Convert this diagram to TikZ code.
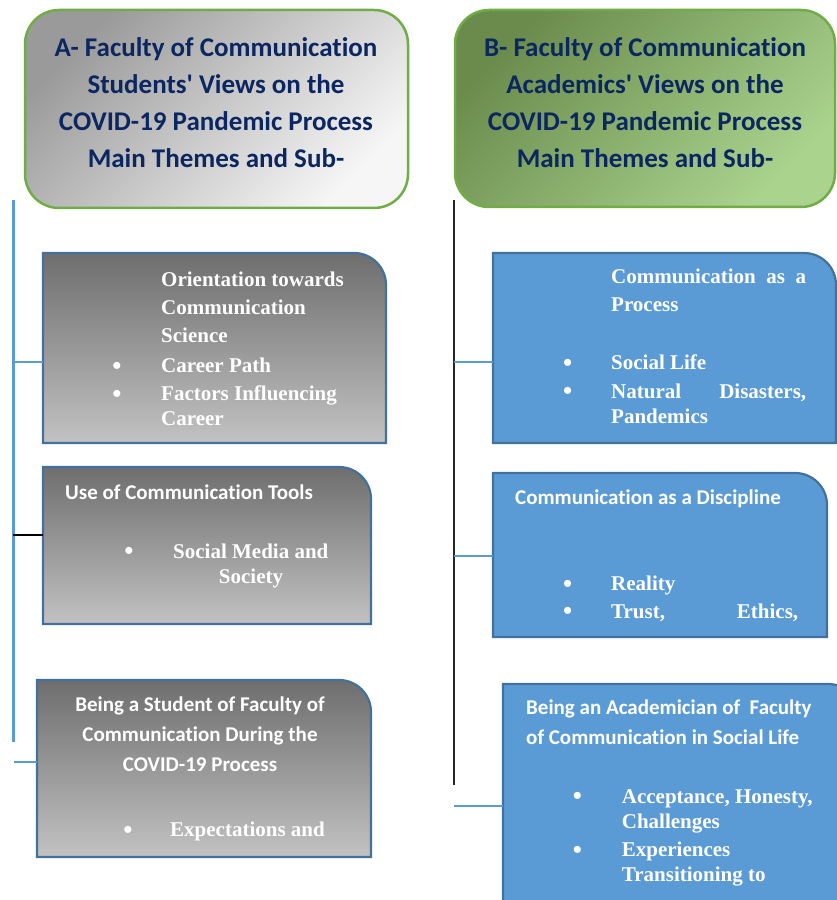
\documentclass[tikz,border=0pt]{standalone}
\usepackage{fontspec}
\setmainfont{Liberation Serif}
\newfontfamily\carl[Ligatures={NoCommon}]{Carlito}
\definecolor{navy}{HTML}{0B2660}
\definecolor{hdrgreen}{HTML}{70AD47}
\definecolor{bdrblue}{HTML}{41719C}
\definecolor{fillblue}{HTML}{5B9BD5}
\definecolor{gtop}{HTML}{6E6E6E}
\definecolor{gbot}{HTML}{C2C2C2}
\definecolor{hAa}{HTML}{9A9A9A}
\definecolor{hAb}{HTML}{F6F6F6}
\definecolor{hBa}{HTML}{6A8B4C}
\definecolor{hBb}{HTML}{AAD38E}
\newcommand\trshape[2]{%
  \path[#2] (#1.south west) -- (#1.north west) -- ([xshift=-32pt]#1.north east)
    arc[start angle=90,end angle=0,radius=32pt] -- (#1.south east) -- cycle;}
\tikzset{
  frame/.style={draw=none,inner sep=0pt,outer sep=0pt,rectangle},
  hdr/.style={rectangle,rounded corners=34pt,draw=hdrgreen,line width=2.5pt,inner sep=0pt},
  graybox/.style={top color=gtop,bottom color=gbot,draw=bdrblue,line width=2.2pt},
  bluebox/.style={fill=fillblue,draw=bdrblue,line width=2.2pt},
  hdtxt/.style={font=\carl\bfseries\fontsize{27}{30}\selectfont,text=navy,anchor=base,inner sep=0pt},
  ttl/.style={font=\carl\bfseries\fontsize{21}{25}\selectfont,text=white,inner sep=0pt},
  srf/.style={font=\bfseries\fontsize{21}{25}\selectfont,text=white,inner sep=0pt,anchor=base west},
  bul/.style={font=\bfseries\fontsize{26}{30}\selectfont,text=white,inner sep=0pt,anchor=base,yshift=-1.5pt},
  conblue/.style={draw=fillblue,line width=1.2pt},
  conblack/.style={draw=black,line width=1.2pt},
  vblue/.style={draw=fillblue,line width=3pt},
  vblack/.style={draw=black!85,line width=1.3pt}
}
\begin{document}
\begin{tikzpicture}[x=1pt,y=1pt]
\useasboundingbox (0,0) rectangle (837,900);
\clip (0,0) rectangle (837,900);
\fill[white] (0,0) rectangle (837,900);

% headers
\node[hdr,minimum width=383pt,minimum height=198pt,
  top color=hAa,bottom color=hAb,shading angle=45] (ha) at (216.5,791) {};
\node[hdr,minimum width=380pt,minimum height=197pt,
  top color=hBa,bottom color=hBb,shading angle=45] (hb) at (645,791.5) {};
\node[hdtxt] (ha1) at (216,843) {A- Faculty of Communication};
\node[hdtxt] (ha2) at (216,806) {Students' Views on the};
\node[hdtxt] (ha3) at (216,769) {COVID-19 Pandemic Process};
\node[hdtxt] (ha4) at (216,732) {Main Themes and Sub-};
\node[hdtxt] (hb1) at (645,843) {B- Faculty of Communication};
\node[hdtxt] (hb2) at (645,806) {Academics' Views on the};
\node[hdtxt] (hb3) at (645,769) {COVID-19 Pandemic Process};
\node[hdtxt] (hb4) at (645,732) {Main Themes and Sub-};

% box frames
\node[frame,minimum width=343pt,minimum height=190pt] (l1) at (214.5,552) {};
\node[frame,minimum width=328pt,minimum height=157pt] (l2) at (207,354.5) {};
\node[frame,minimum width=334pt,minimum height=177pt] (l3) at (204,131.5) {};
\node[frame,minimum width=343pt,minimum height=190pt] (r1) at (664.5,552) {};
\node[frame,minimum width=334pt,minimum height=164pt] (r2) at (660,345) {};
\node[frame,minimum width=357pt,minimum height=236pt] (r3) at (681.5,98) {};
\trshape{l1}{graybox}
\trshape{l2}{graybox}
\trshape{l3}{graybox}
\trshape{r1}{bluebox}
\trshape{r2}{bluebox}
\trshape{r3}{bluebox}

% connectors left
\coordinate (lt) at (13,700);
\coordinate (lb) at (13,158);
\draw[vblue] (lt) -- (lb);
\coordinate (lc1) at (13,538);
\coordinate (lc2) at (13,365);
\coordinate (lc3) at (14,138);
\draw[conblue] (lc1) -- (lc1 -| l1.west);
\draw[conblack] (lc2) -- (lc2 -| l2.west);
\draw[conblue] (lc3) -- (lc3 -| l3.west);

% connectors right
\coordinate (rt) at (454,700);
\coordinate (rb) at (454,115);
\draw[vblack] (rt) -- (rb);
\coordinate (rc1) at (454,538);
\coordinate (rc2) at (454,344);
\coordinate (rc3) at (454,94);
\draw[conblue] (rc1) -- (rc1 -| r1.west);
\draw[conblue] (rc2) -- (rc2 -| r2.west);
\draw[conblue] (rc3) -- (rc3 -| r3.west);

% L1 text
\node[srf] (l1a) at (161,613.3) {Orientation towards};
\node[srf] (l1b) at (161,585) {Communication};
\node[srf] (l1c) at (161,557.3) {Science};
\node[bul] (l1d) at (117,527.3) {\textbullet};
\node[srf] (l1e) at (161,527.3) {Career Path};
\node[bul] (l1f) at (117,499) {\textbullet};
\node[srf] (l1g) at (161,499) {Factors Influencing};
\node[srf] (l1h) at (161,474.3) {Career};

% L2 text
\node[ttl,anchor=base west] (l2a) at (65,400.7) {Use of Communication Tools};
\node[bul] (l2b) at (129,341.7) {\textbullet};
\node[srf] (l2c) at (173,341.7) {Social Media and};
\node[srf,anchor=base] (l2d) at (251,316.7) {Society};

% L3 text
\node[ttl,anchor=base] (l3a) at (200,188.3) {Being a Student of Faculty of};
\node[ttl,anchor=base] (l3b) at (200,158.3) {Communication During the};
\node[ttl,anchor=base] (l3c) at (200,128.3) {COVID-19 Process};
\node[bul] (l3d) at (128,63.3) {\textbullet};
\node[srf] (l3e) at (170,63.3) {Expectations and};

% R1 text
\node[srf] (r1a) at (611,616.7) {\makebox[195pt][s]{Communication as a}};
\node[srf] (r1b) at (611,588.3) {Process};
\node[bul] (r1c) at (567.7,530) {\textbullet};
\node[srf] (r1d) at (611,530) {Social Life};
\node[bul] (r1e) at (567.7,501.7) {\textbullet};
\node[srf] (r1f) at (611,501.7) {\makebox[195pt][s]{Natural Disasters,}};
\node[srf] (r1g) at (611,476.7) {Pandemics};

% R2 text
\node[ttl,anchor=base west] (r2a) at (515,395) {Communication as a Discipline};
\node[bul] (r2b) at (567.7,309.3) {\textbullet};
\node[srf] (r2c) at (611,309.3) {Reality};
\node[bul] (r2d) at (567.7,281.7) {\textbullet};
\node[srf] (r2e) at (611,281.7) {\makebox[187pt][s]{Trust, Ethics,}};

% R3 text
\node[ttl,anchor=base west] (r3a) at (526,185) {Being an Academician of~ Faculty};
\node[ttl,anchor=base west] (r3b) at (526,155) {of Communication in Social Life};
\node[bul] (r3c) at (577.3,96.7) {\textbullet};
\node[srf] (r3d) at (621.7,96.7) {Acceptance, Honesty,};
\node[srf] (r3e) at (621.7,71.7) {Challenges};
\node[bul] (r3f) at (577.3,43.3) {\textbullet};
\node[srf] (r3g) at (621.7,43.3) {Experiences};
\node[srf] (r3h) at (621.7,18.3) {Transitioning to};
\end{tikzpicture}
\end{document}
